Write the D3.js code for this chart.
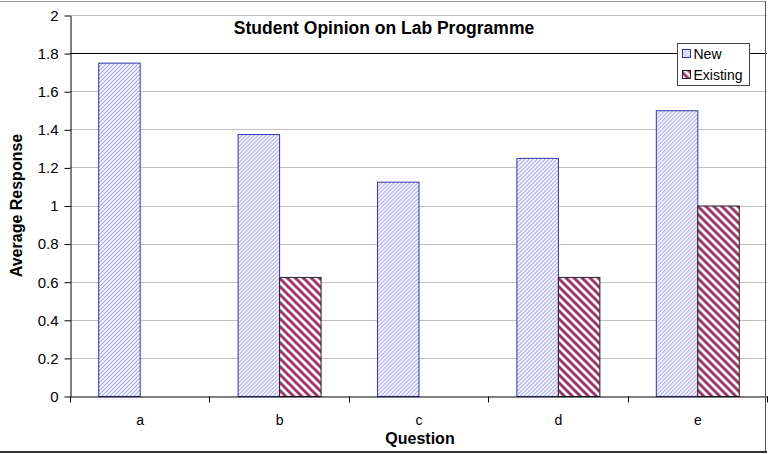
<!DOCTYPE html>
<html>
<head>
<meta charset="utf-8">
<script src="https://cdn.jsdelivr.net/npm/d3@7"></script>
<style>
  body { margin: 0; background: #fff; }
  svg { display: block; font-family: "Liberation Sans", Arial, sans-serif; }
</style>
</head>
<body>
<div id="chart"></div>
<script>
// chart data
const categories = ['a', 'b', 'c', 'd', 'e'];
const seriesNames = ['New', 'Existing'];
const newValues = [1.75, 1.375, 1.125, 1.25, 1.5];
const existingValues = [0, 0.625, 0, 0.625, 1.0];
const yTicks = [0, 0.2, 0.4, 0.6, 0.8, 1, 1.2, 1.4, 1.6, 1.8, 2];

const width = 771, height = 454;
const margin = { top: 15, right: 4, bottom: 58, left: 70 };

const svg = d3.select('#chart').append('svg')
    .attr('width', width)
    .attr('height', height);

// hatch patterns
const defs = svg.append('defs');
const pNew = defs.append('pattern')
    .attr('id', 'hatch-new')
    .attr('patternUnits', 'userSpaceOnUse')
    .attr('width', 4).attr('height', 4);
pNew.append('rect').attr('width', 4).attr('height', 4).attr('fill', '#fff');
pNew.append('path')
    .attr('d', 'M-1,1 l2,-2 M0,4 l4,-4 M3,5 l2,-2')
    .attr('stroke', '#a3a3ee').attr('stroke-width', 1.1);

const pOld = defs.append('pattern')
    .attr('id', 'hatch-old')
    .attr('patternUnits', 'userSpaceOnUse')
    .attr('width', 8).attr('height', 8);
pOld.append('rect').attr('width', 8).attr('height', 8).attr('fill', '#fff');
pOld.append('path')
    .attr('d', 'M-2,-2 l12,12 M-2,6 l4,4 M6,-2 l4,4')
    .attr('stroke', '#993366').attr('stroke-width', 3);

const fills = ['url(#hatch-new)', 'url(#hatch-old)'];
const strokes = ['#3333aa', '#222'];

const x = d3.scaleBand()
    .domain(categories)
    .range([margin.left, width - margin.right]);

const x1 = d3.scaleBand()
    .domain(seriesNames)
    .range([0, x.bandwidth()])
    .paddingOuter(0.68);

const y = d3.scaleLinear()
    .domain([0, 2])
    .range([height - margin.bottom, margin.top]);

// gridlines
svg.append('g')
    .selectAll('line')
    .data(yTicks.slice(1))
    .join('line')
    .attr('x1', margin.left).attr('x2', width - margin.right)
    .attr('y1', d => Math.round(y(d)) + 0.5).attr('y2', d => Math.round(y(d)) + 0.5)
    .attr('stroke', d => d === 1.8 ? '#000' : '#c0c0c0');

// bars
const data = categories.map((c, i) => ({ cat: c, vals: [newValues[i], existingValues[i]] }));
svg.append('g')
    .selectAll('g')
    .data(data)
    .join('g')
    .attr('transform', d => `translate(${x(d.cat)},0)`)
    .selectAll('rect')
    .data(d => d.vals.map((v, j) => ({ v, j })).filter(e => e.v > 0))
    .join('rect')
    .attr('x', d => x1(seriesNames[d.j]) + 0.5)
    .attr('y', d => y(d.v) + 0.5)
    .attr('width', x1.bandwidth())
    .attr('height', d => y(0) - y(d.v))
    .attr('fill', d => fills[d.j])
    .attr('stroke', d => strokes[d.j])
    .attr('stroke-width', 1);

// y axis
const yAxis = svg.append('g')
    .attr('transform', `translate(${margin.left + 0.5},0.5)`)
    .call(d3.axisLeft(y).tickValues(yTicks).tickFormat(d => String(d)).tickSize(6).tickPadding(6).tickSizeOuter(0));
yAxis.selectAll('text').attr('font-size', 15).attr('fill', '#000').attr('font-family', 'Liberation Sans, Arial');
yAxis.select('.domain').attr('stroke', '#000');

// x axis
const xAxis = svg.append('g')
    .attr('transform', `translate(0.5,${height - margin.bottom + 0.5})`)
    .call(d3.axisBottom(x).tickSize(0).tickPadding(19));
xAxis.selectAll('text').attr('font-size', 14).attr('fill', '#000').attr('font-family', 'Liberation Sans, Arial');
xAxis.select('.domain').attr('stroke', '#000');
// boundary tick marks between categories
xAxis.append('g')
    .selectAll('line')
    .data(categories.map(c => x(c)).concat([x(categories[4]) + x.bandwidth()]))
    .join('line')
    .attr('x1', d => Math.round(d)).attr('x2', d => Math.round(d))
    .attr('y1', 0).attr('y2', 6)
    .attr('stroke', '#000');

// titles
svg.append('text')
    .attr('x', 384).attr('y', 34)
    .attr('text-anchor', 'middle')
    .attr('font-size', 17.5).attr('font-weight', 'bold')
    .text('Student Opinion on Lab Programme');

svg.append('text')
    .attr('transform', `translate(22,${(margin.top + height - margin.bottom) / 2}) rotate(-90)`)
    .attr('text-anchor', 'middle')
    .attr('font-size', 16).attr('font-weight', 'bold')
    .text('Average Response');

svg.append('text')
    .attr('x', 420).attr('y', 444)
    .attr('text-anchor', 'middle')
    .attr('font-size', 16).attr('font-weight', 'bold')
    .text('Question');

// legend
const legend = svg.append('g').attr('transform', 'translate(677.5,43.5)');
legend.append('rect')
    .attr('width', 72).attr('height', 42)
    .attr('fill', '#fff').attr('stroke', '#444');
seriesNames.forEach((name, i) => {
    legend.append('rect')
        .attr('x', 5).attr('y', 6 + i * 21)
        .attr('width', 8).attr('height', 8)
        .attr('fill', fills[i]).attr('stroke', strokes[i]);
    legend.append('text')
        .attr('x', 16).attr('y', 15 + i * 21)
        .attr('font-size', 14)
        .text(name);
});

// chart border
svg.append('line').attr('x1', 0).attr('x2', 766).attr('y1', 1.5).attr('y2', 1.5).attr('stroke', '#999');
svg.append('line').attr('x1', 765.5).attr('x2', 765.5).attr('y1', 1).attr('y2', 452).attr('stroke', '#555');
svg.append('line').attr('x1', 0).attr('x2', 767).attr('y1', 452).attr('y2', 452).attr('stroke', '#333').attr('stroke-width', 2);
</script>
</body>
</html>
